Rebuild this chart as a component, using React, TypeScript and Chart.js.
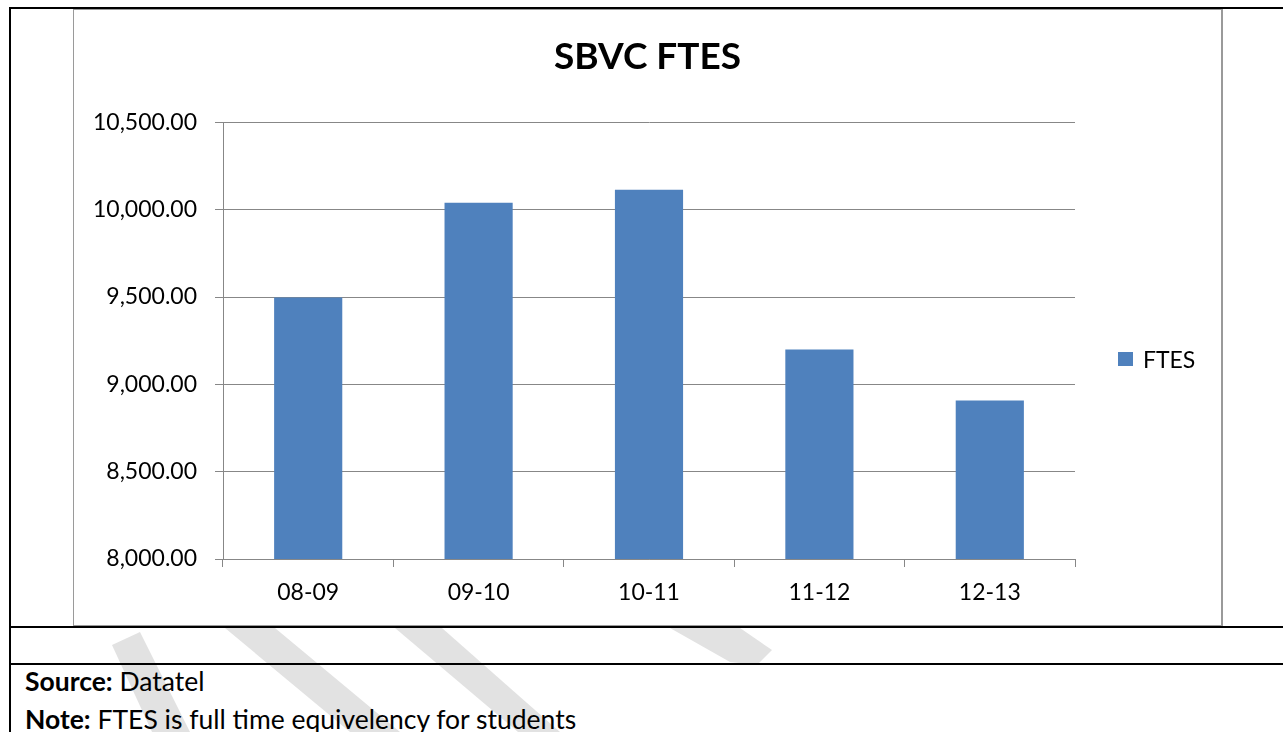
import React, { useEffect, useRef } from "react";
import { Chart, registerables } from "chart.js";

Chart.register(...registerables);

const categories = ["08-09", "09-10", "10-11", "11-12", "12-13"];
const ftesValues = [9497, 10040, 10114, 9200, 8908];
const seriesName = "FTES";
const yMin = 8000;
const yMax = 10500;
const yStep = 500;
const chartTitle = "SBVC FTES";

const BAR_COLOR = "#4F81BD";
const FONT = "Lato, 'Open Sans', sans-serif";

const stripes: string[] = [
  "112px 645px, 140px 632px, 190px 732px, 152px 732px",
  "225px 628px, 275px 628px, 400px 732px, 350px 732px",
  "395px 628px, 442px 628px, 560px 732px, 518px 732px",
  "670px 628px, 740px 628px, 772px 650px, 757px 665px, 730px 662px",
];

export default function App() {
  const canvasRef = useRef<HTMLCanvasElement | null>(null);

  useEffect(() => {
    if (!canvasRef.current) return;
    const chart = new Chart(canvasRef.current, {
      type: "bar",
      data: {
        labels: categories,
        datasets: [
          {
            label: seriesName,
            data: ftesValues,
            backgroundColor: BAR_COLOR,
            borderWidth: 0,
            barPercentage: 0.4,
            categoryPercentage: 1,
          },
        ],
      },
      options: {
        animation: false,
        responsive: true,
        maintainAspectRatio: false,
        layout: { padding: { left: 0, right: 0, top: 0, bottom: 0 } },
        plugins: {
          legend: { display: false },
          tooltip: { enabled: false },
          title: {
            display: true,
            text: chartTitle,
            color: "#000",
            font: { family: FONT, size: 37, weight: "bold" },
            padding: { top: 25, bottom: 43 },
          },
        },
        scales: {
          x: {
            afterFit: (s: any) => {
              s.height = 65;
            },
            grid: {
              display: true,
              drawOnChartArea: false,
              drawTicks: true,
              tickLength: 8,
              color: "#878787",
              offset: true,
            },
            border: { display: true, color: "#878787", width: 1 },
            ticks: {
              color: "#000",
              font: { family: FONT, size: 23 },
              padding: 12,
              maxRotation: 0,
            },
          },
          y: {
            min: yMin,
            max: yMax,
            afterFit: (s: any) => {
              s.width = 149;
            },
            grid: {
              color: "#878787",
              lineWidth: 1,
              drawTicks: true,
              tickLength: 8,
            },
            border: { display: true, color: "#878787", width: 1 },
            ticks: {
              stepSize: yStep,
              color: "#000",
              font: { family: FONT, size: 23 },
              padding: 18,
              callback: (v: any) =>
                Number(v).toLocaleString("en-US", {
                  minimumFractionDigits: 2,
                  maximumFractionDigits: 2,
                }),
            },
          },
          legendSpace: {
            type: "linear",
            position: "right",
            display: true,
            min: yMin,
            max: yMax,
            afterFit: (s: any) => {
              s.width = 146;
            },
            grid: { display: false, drawTicks: false },
            border: { display: false },
            ticks: { display: false },
          },
        },
      },
    });
    return () => chart.destroy();
  }, []);

  return (
    <div
      style={{
        position: "fixed",
        left: 0,
        top: 0,
        width: 1283,
        height: 732,
        background: "#fff",
        overflow: "hidden",
        fontFamily: FONT,
      }}
    >
      {stripes.map((p, i) => (
        <div
          key={i}
          style={{
            position: "absolute",
            left: 0,
            top: 0,
            width: 1283,
            height: 732,
            background: "#e2e2e2",
            clipPath: `polygon(${p})`,
          }}
        />
      ))}
      {/* black frame lines */}
      <div style={{ position: "absolute", left: 9, top: 7, width: 1274, height: 2, background: "#000" }} />
      <div style={{ position: "absolute", left: 9, top: 7, width: 2, height: 725, background: "#000" }} />
      <div style={{ position: "absolute", left: 9, top: 626, width: 1274, height: 2, background: "#000" }} />
      <div style={{ position: "absolute", left: 9, top: 663, width: 1274, height: 2, background: "#000" }} />
      {/* chart box */}
      <div
        style={{
          position: "absolute",
          left: 73,
          top: 9,
          width: 1147,
          height: 615,
          borderLeft: "1px solid #9a9a9a",
          borderTop: "1px solid #9a9a9a",
          borderRight: "2px solid #9a9a9a",
          borderBottom: "1px solid #9a9a9a",
          background: "#fff",
        }}
      >
        <div style={{ position: "absolute", left: 0, top: 0, width: 1147, height: 614 }}>
          <canvas ref={canvasRef} />
        </div>
      </div>
      {/* legend */}
      <div
        style={{
          position: "absolute",
          left: 1118,
          top: 352,
          width: 15,
          height: 14,
          background: BAR_COLOR,
        }}
      />
      <div
        style={{
          position: "absolute",
          left: 1143,
          top: 345,
          fontSize: 23,
          lineHeight: "28px",
          color: "#000",
        }}
      >
        {seriesName}
      </div>
      {/* notes */}
      <div
        style={{
          position: "absolute",
          left: 25,
          top: 666,
          fontSize: 26.5,
          lineHeight: 1.2,
          color: "#000",
          whiteSpace: "nowrap",
        }}
      >
        <b>Source:</b> Datatel
      </div>
      <div
        style={{
          position: "absolute",
          left: 25,
          top: 704,
          fontSize: 26.5,
          lineHeight: 1.2,
          color: "#000",
          whiteSpace: "nowrap",
        }}
      >
        <b>Note:</b> FTES is full time equivelency for students
      </div>
    </div>
  );
}
